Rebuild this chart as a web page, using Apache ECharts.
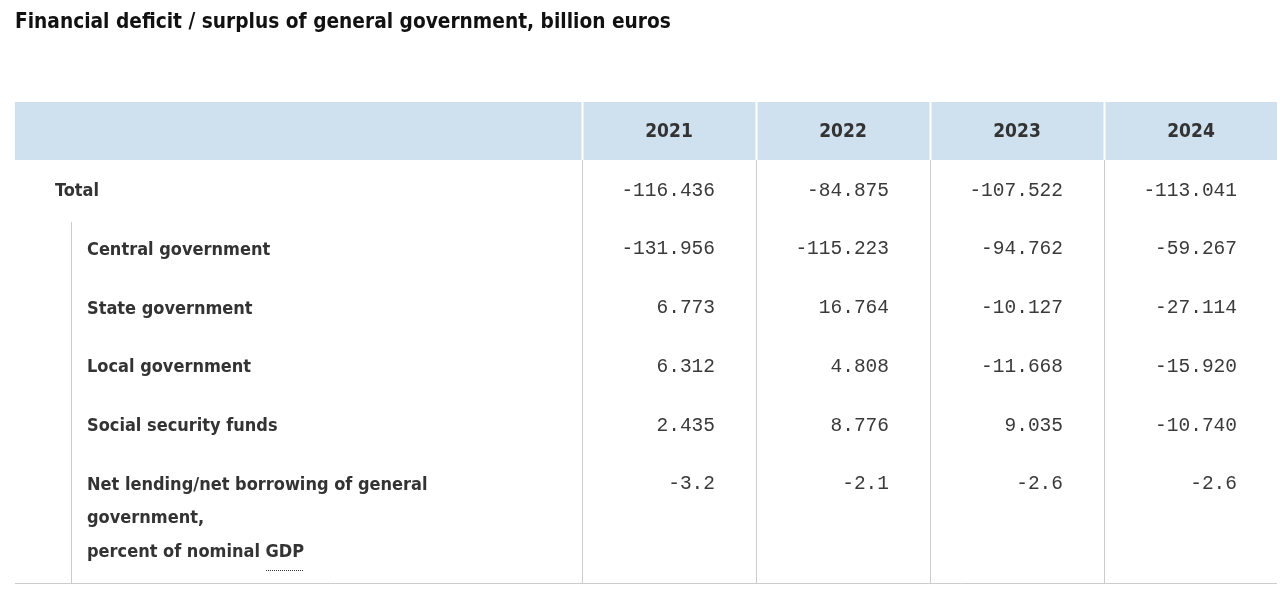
<!DOCTYPE html>
<html>
<head>
<meta charset="utf-8">
<script src="https://cdn.jsdelivr.net/npm/echarts@6/dist/echarts.min.js"></script>
<style>
html,body{margin:0;padding:0;background:#fff;}
#chart{width:1280px;height:601px;}
</style>
</head>
<body>
<div id="chart"></div>
<script>
// ---- data ----
const titleText = 'Financial deficit / surplus of general government, billion euros';
const years = ['2021', '2022', '2023', '2024'];
const rowLabels = [
  'Total',
  'Central government',
  'State government',
  'Local government',
  'Social security funds',
  'Net lending/net borrowing of general\ngovernment,\npercent of nominal GDP'
];
const rowLevels = [0, 1, 1, 1, 1, 1];
const rowDecimals = [3, 3, 3, 3, 3, 1];
const values2021 = [-116.436, -131.956, 6.773, 6.312, 2.435, -3.2];
const values2022 = [-84.875, -115.223, 16.764, 4.808, 8.776, -2.1];
const values2023 = [-107.522, -94.762, -10.127, -11.668, 9.035, -2.6];
const values2024 = [-113.041, -59.267, -27.114, -15.920, -10.740, -2.6];
const yearValues = [values2021, values2022, values2023, values2024];

// ---- styles ----
const labelFont = '"DejaVu Sans Condensed", "Liberation Sans Narrow", Roboto, sans-serif';
const numFont = '"Liberation Mono", "DejaVu Sans Mono", monospace';
const textColor = '#333';
const lineColor = '#cccccc';
const headerBg = '#cfe0ef';

const cellData = [];
yearValues.forEach((arr, c) => arr.forEach((v, r) => cellData.push([c, r, v])));

const chart = echarts.init(document.getElementById('chart'), null, {renderer: 'canvas'});

// measure for the dotted underline under "GDP"
const mctx = document.createElement('canvas').getContext('2d');
mctx.font = 'bold 18px ' + labelFont;
const gdpPrefixW = mctx.measureText('percent of nominal ').width;
const gdpW = mctx.measureText('GDP').width;

const option = {
  animation: false,
  backgroundColor: '#fff',
  title: {
    text: titleText,
    left: 15, top: 12, padding: 0,
    textStyle: {fontFamily: labelFont, fontWeight: 'bold', fontSize: 20.7, color: '#111'}
  },
  graphic: [
    {type: 'rect', left: 15, top: 102, z: -10, shape: {width: 1262, height: 58}, style: {fill: headerBg}},
    {type: 'line', z: 10, shape: {x1: 15, y1: 583.5, x2: 1277, y2: 583.5}, style: {stroke: lineColor, lineWidth: 1}},
    {type: 'line', z: 10, shape: {x1: 71.5, y1: 222, x2: 71.5, y2: 583}, style: {stroke: lineColor, lineWidth: 1}}
  ],
  grid: {left: 582, top: 160, width: 696, height: 423, containLabel: false},
  xAxis: {
    type: 'category', data: years, position: 'top', boundaryGap: true,
    axisLine: {show: false}, axisTick: {show: false}, splitLine: {show: false},
    axisLabel: {
      margin: 28, verticalAlign: 'middle', fontFamily: labelFont, fontWeight: 'bold',
      fontSize: 19, color: textColor
    }
  },
  yAxis: {type: 'value', inverse: true, min: 0, max: 7.2, show: false},
  series: [
    {
      // column separators
      type: 'custom', silent: true, z: 5,
      data: years.map((y, i) => [i]),
      encode: {x: 0},
      renderItem: function (params, api) {
        const c = api.value(0);
        const cx = api.coord([c, 0])[0];
        const bw = api.size([1, 0])[0];
        const x = Math.round(cx - bw / 2) + 0.5;
        const cs = params.coordSys;
        return {
          type: 'group',
          children: [
            {type: 'line', shape: {x1: x, y1: cs.y, x2: x, y2: cs.y + cs.height}, style: {stroke: lineColor, lineWidth: 1}},
            {type: 'line', shape: {x1: x, y1: cs.y - 58, x2: x, y2: cs.y}, style: {stroke: '#ffffff', lineWidth: 2}}
          ]
        };
      }
    },
    {
      // numeric cells
      type: 'custom', silent: true, z: 6,
      data: cellData,
      encode: {x: 0, y: 1},
      renderItem: function (params, api) {
        const c = api.value(0), r = api.value(1), v = api.value(2);
        const pt = api.coord([c, r + 0.5]);
        const bw = api.size([1, 0])[0];
        return {
          type: 'text',
          x: pt[0] + bw / 2 - 41, y: pt[1] + 1,
          style: {
            text: v.toFixed(rowDecimals[r]), align: 'right', verticalAlign: 'middle',
            font: 'normal 19.5px ' + numFont, fill: '#3a3a3a'
          }
        };
      }
    },
    {
      // row labels
      type: 'custom', silent: true, z: 6,
      data: rowLabels.map((l, i) => [0, i]),
      encode: {x: 0, y: 1},
      renderItem: function (params, api) {
        const r = api.value(1);
        const cs = params.coordSys;
        const y = api.coord([0, r + 0.5])[1] + 2;
        const x = cs.x - (rowLevels[r] === 0 ? 527 : 495);
        const lh = 33.5;
        const lines = rowLabels[r].split('\n').length;
        const children = [{
          type: 'text', x: x, y: y - lh / 2,
          style: {
            text: rowLabels[r], align: 'left', verticalAlign: 'top', lineHeight: lh,
            font: 'bold 18px ' + labelFont, fill: textColor
          }
        }];
        if (lines > 1) {
          const uy = Math.round(y + (lines - 1) * lh + 18) + 0.5;
          children.push({
            type: 'line',
            shape: {x1: Math.round(x + gdpPrefixW), y1: uy, x2: Math.round(x + gdpPrefixW + gdpW), y2: uy},
            style: {stroke: '#333', lineWidth: 1, lineDash: [1, 1]}
          });
        }
        return {type: 'group', children: children};
      }
    }
  ]
};
chart.setOption(option);
</script>
</body>
</html>
